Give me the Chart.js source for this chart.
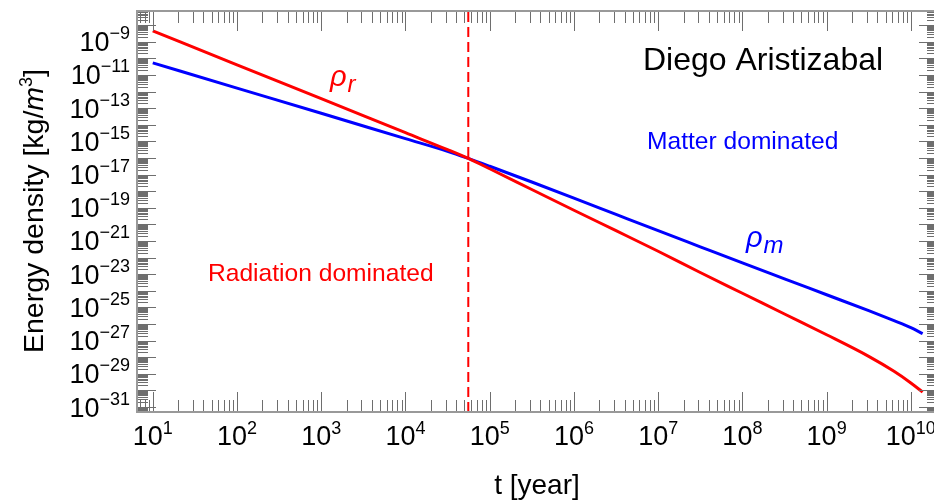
<!DOCTYPE html>
<html><head><meta charset="utf-8">
<script src="https://cdn.jsdelivr.net/npm/chart.js@4.4.0/dist/chart.umd.min.js"></script>
<style>
html,body{margin:0;padding:0;overflow:hidden;background:#fff;width:934px;height:501px}
#wrap{width:960px;height:501px;position:relative}
</style></head>
<body><div id="wrap"><canvas id="c" width="960" height="501"></canvas></div>
<script>
// ---- data ----
const timeYears = [1e1, 1e2, 1e3, 1e4, 3.16e4, 5.57e4, 1e5, 3.16e5, 1e6, 3.16e6, 1e7, 3.16e7, 1e8, 3.16e8, 1e9, 3.16e9, 6.31e9, 1e10, 1.38e10];
const radiationDensity = [4.57e-9, 4.07e-11, 3.72e-13, 3.31e-15, 3.16e-16, 9.33e-17, 2.24e-17, 1.26e-18, 7.08e-20, 4.17e-21, 2.40e-22, 1.26e-23, 7.08e-25, 3.98e-26, 2.24e-27, 1.12e-28, 1.41e-29, 2.82e-30, 7.94e-31];
const matterDensity = [5.37e-11, 1.62e-12, 4.90e-14, 1.45e-15, 2.51e-16, 9.33e-17, 3.16e-17, 3.55e-18, 3.80e-19, 3.98e-20, 4.17e-21, 4.47e-22, 4.79e-23, 5.25e-24, 5.75e-25, 6.31e-26, 1.58e-26, 6.03e-27, 2.63e-27];
const equalityTime = 5.57e4;
const xTickExponents = [1, 2, 3, 4, 5, 6, 7, 8, 9, 10];
const yTickExponents = [-9, -11, -13, -15, -17, -19, -21, -23, -25, -27, -29, -31];
const xRange = [6.5, 2.1e10];
const yRange = [5.0e-32, 7.1e-8];

const FONT = '"Liberation Sans", Arial, Helvetica, sans-serif';

function pts(xs, ys) { return xs.map((x, i) => ({ x: x, y: ys[i] })); }

function expStr(e) { return e < 0 ? '\u2212' + Math.abs(e) : String(e); }

const decor = {
  id: 'decor',
  afterDraw(chart) {
    const ctx = chart.ctx;
    const a = chart.chartArea;
    const xs = chart.scales.x, ys = chart.scales.y;
    ctx.save();
    // ticks
    ctx.strokeStyle = '#6e6e6e';
    ctx.lineWidth = 1;
    ctx.beginPath();
    const xl0 = Math.floor(Math.log10(xRange[0])), xl1 = Math.ceil(Math.log10(xRange[1]));
    for (let d = xl0; d <= xl1; d++) {
      for (let k = 1; k <= 9; k++) {
        const v = k * Math.pow(10, d);
        if (v < xRange[0] || v > xRange[1]) continue;
        const px = Math.round(xs.getPixelForValue(v)) + 0.5;
        const len = k === 1 ? 20 : 12;
        ctx.moveTo(px, a.bottom); ctx.lineTo(px, a.bottom - len);
        ctx.moveTo(px, a.top); ctx.lineTo(px, a.top + len);
      }
    }
    const yl0 = Math.floor(Math.log10(yRange[0])), yl1 = Math.ceil(Math.log10(yRange[1]));
    for (let d = yl0; d <= yl1; d++) {
      for (let k = 1; k <= 9; k++) {
        const v = k * Math.pow(10, d);
        if (v < yRange[0] || v > yRange[1]) continue;
        const py = Math.round(ys.getPixelForValue(v)) + 0.5;
        const len = k === 1 ? 19 : 11;
        ctx.moveTo(a.left, py); ctx.lineTo(a.left + len, py);
        ctx.moveTo(a.right, py); ctx.lineTo(a.right - len, py);
      }
    }
    ctx.stroke();
    // frame
    ctx.strokeStyle = '#999';
    ctx.lineWidth = 2;
    ctx.strokeRect(a.left, a.top, a.right - a.left, a.bottom - a.top);

    // tick labels
    const baseF = '27px ' + FONT, supF = '18px ' + FONT;
    ctx.fillStyle = '#000';
    ctx.textBaseline = 'alphabetic';
    ctx.textAlign = 'left';
    xTickExponents.forEach(e => {
      const px = xs.getPixelForValue(Math.pow(10, e));
      ctx.font = baseF; const wb = ctx.measureText('10').width;
      ctx.font = supF; const s = expStr(e); const ws = ctx.measureText(s).width;
      const x0 = px - (wb + ws) / 2;
      ctx.font = baseF; ctx.fillText('10', x0, 445);
      ctx.font = supF; ctx.fillText(s, x0 + wb, 434);
    });
    yTickExponents.forEach(e => {
      const py = ys.getPixelForValue(Math.pow(10, e));
      ctx.font = baseF; const wb = ctx.measureText('10').width;
      ctx.font = supF; const s = expStr(e); const ws = ctx.measureText(s).width;
      const x0 = 130 - wb - ws;
      ctx.font = baseF; ctx.fillText('10', x0, py + 9.5);
      ctx.font = supF; ctx.fillText(s, x0 + wb, py - 2.5);
    });

    // axis titles
    ctx.font = '28px ' + FONT;
    ctx.textAlign = 'center';
    ctx.fillText('t [year]', 537, 494);

    // y title rotated
    ctx.save();
    ctx.translate(43, 211);
    ctx.rotate(-Math.PI / 2);
    const segs = [
      { t: 'Energy density [kg/', f: '28.5px ' + FONT, dy: 0 },
      { t: 'm', f: 'italic 28.5px ' + FONT, dy: 0 },
      { t: '3', f: '18px ' + FONT, dy: -11 },
      { t: ']', f: '28.5px ' + FONT, dy: 0 }
    ];
    let tot = 0;
    segs.forEach(s => { ctx.font = s.f; s.w = ctx.measureText(s.t).width; tot += s.w; });
    let cx = -tot / 2;
    ctx.textAlign = 'left';
    segs.forEach(s => { ctx.font = s.f; ctx.fillText(s.t, cx, s.dy); cx += s.w; });
    ctx.restore();

    // annotations
    ctx.textAlign = 'left';
    ctx.fillStyle = '#000';
    ctx.font = '32px ' + FONT;
    ctx.fillText('Diego Aristizabal', 643, 70);
    ctx.fillStyle = '#0000ff';
    ctx.font = '24.6px ' + FONT;
    ctx.fillText('Matter dominated', 647, 149);
    ctx.fillStyle = '#ff0000';
    ctx.fillText('Radiation dominated', 208, 281);

    function rho(x, y, sub, color) {
      ctx.fillStyle = color;
      ctx.font = 'italic 29px ' + FONT;
      ctx.fillText('\u03c1', x, y);
      const w = ctx.measureText('\u03c1').width;
      ctx.font = 'italic 24px ' + FONT;
      ctx.fillText(sub, x + w + 1, y + 6);
    }
    rho(330, 86, 'r', '#ff0000');
    rho(746, 247, 'm', '#0000ff');
    ctx.restore();
  }
};

new Chart(document.getElementById('c'), {
  type: 'line',
  data: {
    datasets: [
      { label: 'rho_r', data: pts(timeYears, radiationDensity), borderColor: '#ff0000', borderWidth: 3, pointRadius: 0, cubicInterpolationMode: 'monotone', fill: false },
      { label: 'rho_m', data: pts(timeYears, matterDensity), borderColor: '#0000ff', borderWidth: 3, pointRadius: 0, cubicInterpolationMode: 'monotone', fill: false },
      { label: 'equality', data: [{ x: equalityTime, y: yRange[0] }, { x: equalityTime, y: yRange[1] }], borderColor: '#ff0000', borderWidth: 2, borderDash: [10, 5], pointRadius: 0, fill: false }
    ]
  },
  options: {
    responsive: false,
    devicePixelRatio: 1,
    animation: false,
    layout: { padding: { left: 137, top: 11, right: 22, bottom: 89 } },
    plugins: { legend: { display: false }, tooltip: { enabled: false } },
    scales: {
      x: { type: 'logarithmic', min: xRange[0], max: xRange[1], display: false },
      y: { type: 'logarithmic', min: yRange[0], max: yRange[1], display: false }
    }
  },
  plugins: [decor]
});
</script>
</body></html>
